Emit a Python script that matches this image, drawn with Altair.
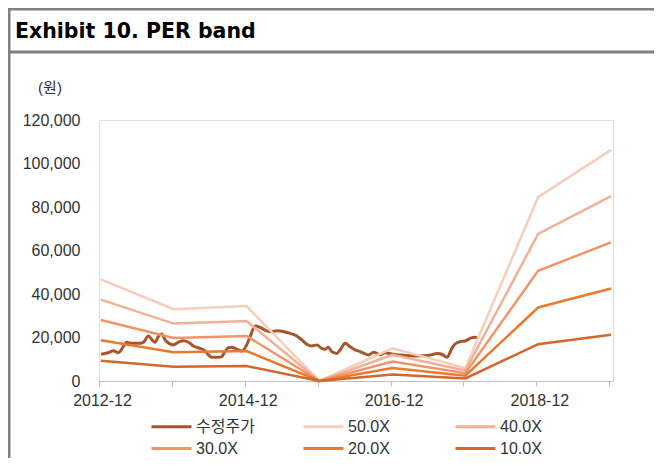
import altair as alt
import pandas as pd

# ---------------- data ----------------
title_text = "Exhibit 10. PER band"
unit_label = "(원)"

series_names = ["수정주가", "50.0X", "40.0X", "30.0X", "20.0X", "10.0X"]
series_colors = ["#A5562A", "#F8CDBA", "#F3B096", "#F29467", "#E97A30", "#D2682A"]

band_dates = ["2012-12-10", "2013-12-10", "2014-12-10", "2015-12-10",
              "2016-12-10", "2017-12-10", "2018-12-10", "2019-12-10"]
per_50 = [46750, 33000, 34500, 0, 15000, 6000, 84500, 106250]
per_40 = [37400, 26400, 27600, 0, 12000, 4800, 67600, 85000]
per_30 = [28050, 19800, 20700, 0, 9000, 3600, 50700, 63750]
per_20 = [18700, 13200, 13800, 0, 6000, 2400, 33800, 42500]
per_10 = [9350, 6600, 6900, 0, 3000, 1200, 16900, 21250]

price_dates = [
    "2012-12-11", "2013-01-17", "2013-02-11", "2013-03-08", "2013-04-02", "2013-04-19",
    "2013-05-14", "2013-06-16", "2013-07-11", "2013-08-05", "2013-08-22", "2013-09-08",
    "2013-09-24", "2013-10-11", "2013-10-28", "2013-11-17", "2013-12-08", "2014-01-02",
    "2014-01-27", "2014-02-22", "2014-03-19", "2014-04-21", "2014-05-16", "2014-06-02",
    "2014-06-19", "2014-07-22", "2014-08-08", "2014-08-24", "2014-09-10", "2014-09-27",
    "2014-10-22", "2014-11-16", "2014-12-11", "2014-12-28", "2015-01-13", "2015-01-22",
    "2015-02-16", "2015-03-13", "2015-04-07", "2015-05-11", "2015-06-13", "2015-07-16",
    "2015-08-19", "2015-09-13", "2015-10-08", "2015-11-02", "2015-11-27", "2015-12-22",
    "2016-01-08", "2016-01-24", "2016-02-10", "2016-03-06", "2016-03-23", "2016-04-17",
    "2016-05-12", "2016-06-06", "2016-07-01", "2016-07-18", "2016-08-12", "2016-09-06",
    "2016-09-23", "2016-10-09", "2016-11-03", "2016-12-07", "2017-01-01", "2017-02-03",
    "2017-03-25", "2017-05-14", "2017-06-25", "2017-07-21", "2017-08-15", "2017-09-09",
    "2017-10-04", "2017-10-20", "2017-11-14", "2017-12-09", "2018-01-03", "2018-01-28",
    "2018-02-14",
]
price_values = [
    12300, 13000, 13900, 13000, 15800, 17800,
    17300, 17300, 17800, 20700, 19200, 17800,
    20400, 21600, 18900, 17300, 16600, 17800,
    18500, 17800, 16100, 15000, 13900, 12000,
    10900, 10900, 11200, 13500, 15300, 15500,
    14600, 13800, 16600, 20400, 24200, 25300,
    24700, 23400, 22700, 23100, 22800, 21900,
    20700, 18900, 16900, 16100, 16600, 15000,
    14600, 15500, 13500, 12700, 14300, 17300,
    15800, 14300, 13500, 12800, 12000, 13200,
    12700, 12100, 13000, 12400, 12100, 11800,
    11500, 11600, 12100, 12700, 12300, 10900,
    15000, 17000, 18100, 18400, 19600, 20100,
    19200,
]

y_ticks = [0, 20000, 40000, 60000, 80000, 100000, 120000]
tick_years = [2012, 2013, 2014, 2015, 2016, 2017, 2018, 2019]

# ---------------- tables ----------------
price_df = pd.DataFrame({"date": price_dates, "value": price_values, "series": series_names[0]})
band_frames = []
for name, vals in zip(series_names[1:], [per_50, per_40, per_30, per_20, per_10]):
    band_frames.append(pd.DataFrame({"date": band_dates, "value": vals, "series": name}))
band_df = pd.concat(band_frames, ignore_index=True)

FONT = "Liberation Sans, Noto Sans CJK KR, sans-serif"

x_enc = alt.X(
    "date:T",
    scale=alt.Scale(
        type="utc",
        domain=[alt.DateTime(year=2012, month=12, date=1, utc=True),
                alt.DateTime(year=2019, month=12, date=20, utc=True)],
    ),
    axis=alt.Axis(
        title=None,
        values=[alt.DateTime(year=y, month=12, date=1, utc=True) for y in tick_years],
        labelExpr="utcyear(datum.value) % 2 == 0 ? utcFormat(datum.value, '%Y-%m') : ''",
        grid=False,
        domainColor="#BFBFBF",
        tickColor="#BFBFBF",
        tickSize=5,
        labelPadding=6,
        labelOffset=3,
        labelFlush=False,
        labelOverlap=False,
        labelFontSize=16,
        labelFont=FONT,
        labelColor="#333333",
    ),
)
y_enc = alt.Y(
    "value:Q",
    scale=alt.Scale(domain=[0, 120000], nice=False),
    axis=alt.Axis(
        title=None,
        values=y_ticks,
        format=",d",
        grid=False,
        domain=False,
        ticks=False,
        labelPadding=19,
        labelFlush=False,
        labelOverlap=False,
        labelFontSize=16,
        labelFont=FONT,
        labelColor="#333333",
    ),
)
color_enc = alt.Color(
    "series:N",
    scale=alt.Scale(domain=series_names, range=series_colors),
    legend=alt.Legend(
        title=None,
        orient="none",
        legendX=63,
        legendY=297,
        columns=3,
        direction="horizontal",
        gridAlign="all",
        columnPadding=42,
        rowPadding=4,
        padding=0,
        symbolType="M-2.5,0H2.5",
        symbolSize=256,
        symbolStrokeWidth=3,
        labelOffset=15,
        labelFontSize=16,
        labelFont=FONT,
        labelColor="#333333",
    ),
)

price_layer = alt.Chart(price_df).mark_line(strokeWidth=3, interpolate="monotone").encode(
    x=x_enc, y=y_enc, color=color_enc
)
band_layer = alt.Chart(band_df).mark_line(strokeWidth=2.5).encode(
    x=x_enc, y=y_enc, color=color_enc
)

one = pd.DataFrame({"k": [0]})
frame_color = "#808080"
top_rule = alt.Chart(one).mark_rule(color=frame_color, strokeWidth=3).encode(
    x=alt.value(-91), x2=alt.value(555), y=alt.value(-111)
)
mid_rule = alt.Chart(one).mark_rule(color=frame_color, strokeWidth=3).encode(
    x=alt.value(-91), x2=alt.value(555), y=alt.value(-68)
)
left_rule = alt.Chart(one).mark_rule(color=frame_color, strokeWidth=3).encode(
    x=alt.value(-90), y=alt.value(-112), y2=alt.value(340)
)

title_layer = alt.Chart(pd.DataFrame({"t": [title_text]})).mark_text(
    align="left", baseline="alphabetic", fontSize=20.5, fontWeight="bold",
    font="DejaVu Sans", color="#000000"
).encode(x=alt.value(-84), y=alt.value(-82), text="t:N")

unit_layer = alt.Chart(pd.DataFrame({"t": [unit_label]})).mark_text(
    align="center", baseline="middle", fontSize=15, font=FONT, color="#333333"
).encode(x=alt.value(-49), y=alt.value(-32), text="t:N")

chart = alt.layer(
    price_layer, band_layer, top_rule, mid_rule, left_rule, title_layer, unit_layer
).properties(
    width=514,
    height=261,
    autosize=alt.AutoSizeParams(type="none"),
    padding={"left": 91, "top": 112, "right": 41, "bottom": 77},
).configure_view(stroke=None).configure(background="#ffffff")

chart.save("out.html", embed_options={"renderer": "svg", "actions": False})
